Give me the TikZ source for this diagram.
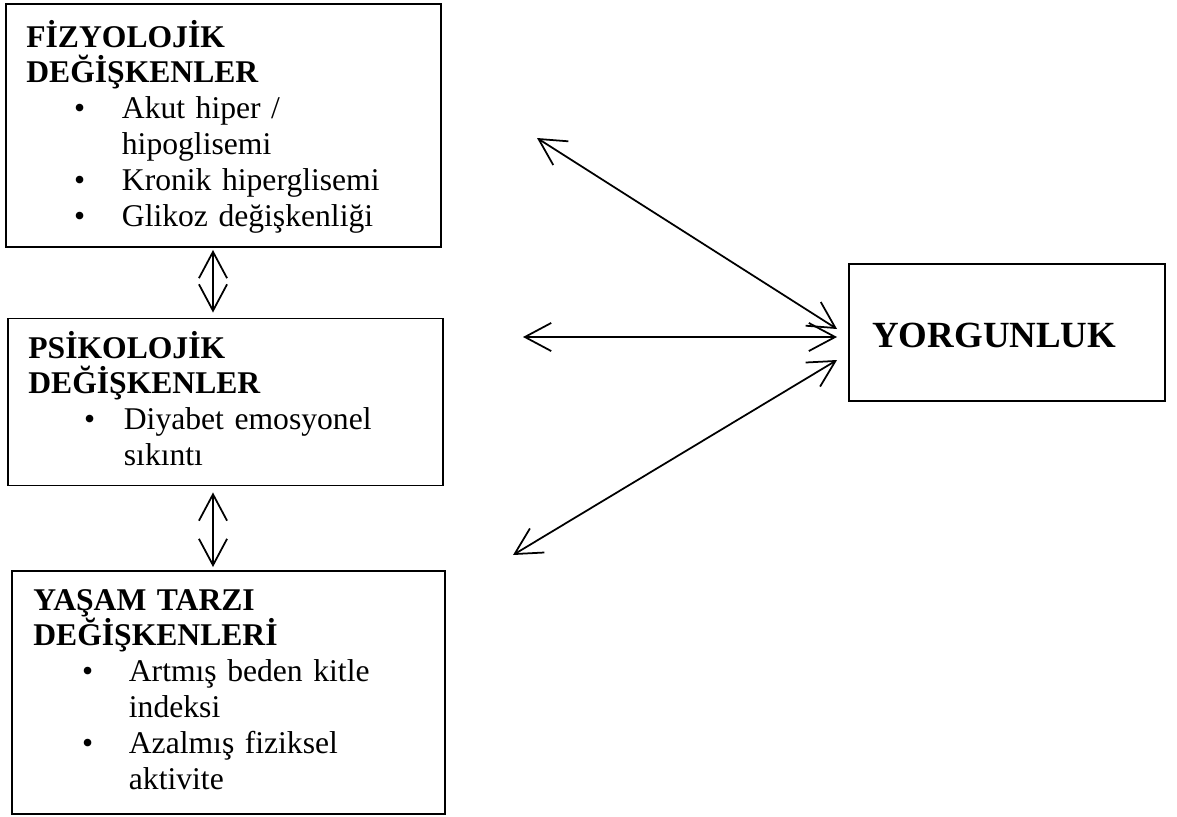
\documentclass[tikz,border=0pt]{standalone}
\usepackage{fontspec}
\setmainfont{Liberation Serif}
\usetikzlibrary{arrows.meta}

\def\px{0.02cm}
\newcommand{\itm}[2][26.6pt]{\hspace*{#1}\makebox[\dimexpr54.4pt-#1\relax][l]{\textbullet}#2}
\newcommand{\cnt}[1]{\hspace*{54.4pt}#1}

\begin{document}
\begin{tikzpicture}[x=\px,y=-\px,
    box/.style={draw,line width=1.1pt,inner sep=0pt},
    txt/.style={anchor=base west,inner sep=0pt,text width=8cm,align=left,
        font=\fontsize{18}{20.4}\selectfont},
    dbl/.style={{Straight Barb[length=15pt,width=16pt]}-{Straight Barb[length=15pt,width=16pt]},
        line width=1pt}]
    \useasboundingbox (0,0) rectangle (1177,816);

    % boxes
    \node[box,minimum width=435*\px,minimum height=243*\px] (fiz) at (223.5,125.5) {};
    \node[box,minimum width=435*\px,minimum height=167*\px] (psi) at (225.5,402) {};
    \node[box,minimum width=433*\px,minimum height=243*\px] (yas) at (228.5,692.5) {};
    \node[box,minimum width=316*\px,minimum height=137*\px] (yor) at (1007,332.5) {};

    \node[txt] (fizt) at (26,47) {\textbf{FİZYOLOJİK}\\\textbf{DEĞİŞKENLER}\\
        \itm[27.2pt]{Akut hiper /}\\\cnt{hipoglisemi}\\
        \itm[27.2pt]{Kronik hiperglisemi}\\\itm[27.2pt]{Glikoz değişkenliği}};
    \node[txt] (psit) at (28,358) {\textbf{PSİKOLOJİK}\\\textbf{DEĞİŞKENLER}\\
        \itm[31.7pt]{Diyabet emosyonel}\\\cnt{sıkıntı}};
    \node[txt] (yast) at (33,610) {\textbf{YAŞAM TARZI}\\\textbf{DEĞİŞKENLERİ}\\
        \itm[27.8pt]{Artmış beden kitle}\\\cnt{indeksi}\\
        \itm[27.8pt]{Azalmış fiziksel}\\\cnt{aktivite}};
    \node[txt,font=\fontsize{21}{24}\selectfont\bfseries] (yort) at (872,347) {YORGUNLUK};

    % arrows
    \draw[dbl] ([shift={(-10.5,2)}]fiz.south) -- ([shift={(-12.5,-5)}]psi.north);
    \draw[dbl] ([shift={(-12.5,6)}]psi.south) -- ([shift={(-15.5,-3)}]yas.north);

    \coordinate (a1) at (537,138);
    \coordinate (a2) at (523,337);
    \coordinate (a3) at (513,555);
    \draw[dbl] (a1) -- ([shift={(-11,-3.5)}]yor.west);
    \draw[dbl] (a2) -- ([shift={(-11,4.5)}]yor.west);
    \draw[dbl] (a3) -- ([shift={(-11,27.5)}]yor.west);
\end{tikzpicture}
\end{document}
